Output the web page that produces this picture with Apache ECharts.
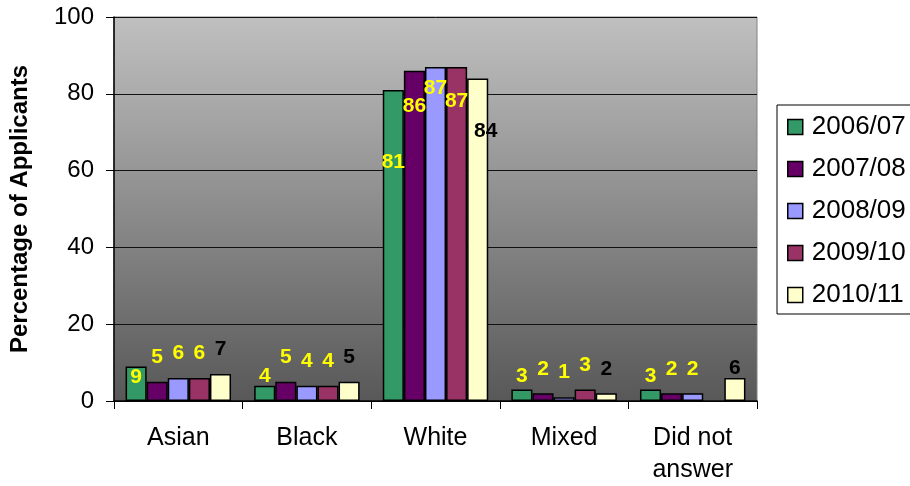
<!DOCTYPE html>
<html>
<head>
<meta charset="utf-8">
<title>Percentage of Applicants by Ethnicity</title>
<script src="https://cdn.jsdelivr.net/npm/echarts@6/dist/echarts.min.js"></script>
<style>
  html, body { margin: 0; padding: 0; background: #ffffff; }
  #chart { width: 910px; height: 486px; }
</style>
</head>
<body>
<div id="chart"></div>
<script>
// Ethnic groups on the x axis
var categories = ['Asian', 'Black', 'White', 'Mixed', 'Did not\nanswer'];

// Academic years (one series each)
var years = ['2006/07', '2007/08', '2008/09', '2009/10', '2010/11'];

// Percentage of applicants per group, per year
var y2006 = [9, 4, 81, 3, 3];
var y2007 = [5, 5, 86, 2, 2];
var y2008 = [6, 4, 87, 1, 2];
var y2009 = [6, 4, 87, 3, null];
var y2010 = [7, 5, 84, 2, 6];

// Y axis tick values
var yTicks = [0, 20, 40, 60, 80, 100];

var seriesValues = [y2006, y2007, y2008, y2009, y2010];
var barColors = ['#339966', '#660066', '#9999FF', '#993366', '#FFFFCC'];
var labelColors = ['#FFFF00', '#FFFF00', '#FFFF00', '#FFFF00', '#000000'];

// Extra label shifts (pixels, downward) for individual bars: [series][category]
var labelShiftY = [
  [35, 15, 97, 11, 11],
  [0, 0, 60, 0, 0],
  [0, 0, 46, 0, 0],
  [0, 0, 59, 0, 0],
  [0, 0, 77, 0, 15]
];
var labelShiftX = [
  [0, 0, 0, 0, 0],
  [0, 0, 0, 0, 0],
  [0, 0, 0, 0, 0],
  [0, 0, 0, 0, 0],
  [0, 0, 8, 0, 0]
];

var FONT = 'Arial, "Liberation Sans", sans-serif';

var series = years.map(function (name, s) {
  return {
    name: name,
    type: 'bar',
    barGap: '0%',
    barCategoryGap: '18%',
    itemStyle: { color: barColors[s], borderColor: '#000000', borderWidth: 1.5 },
    label: {
      show: true,
      position: 'top',
      distance: 14,
      color: labelColors[s],
      fontFamily: FONT,
      fontWeight: 'bold',
      fontSize: 21
    },
    data: seriesValues[s].map(function (v, c) {
      return {
        value: v,
        label: { offset: [labelShiftX[s][c], labelShiftY[s][c]] }
      };
    })
  };
});

var chart = echarts.init(document.getElementById('chart'), null, { renderer: 'canvas' });

chart.setOption({
  animation: false,
  backgroundColor: '#ffffff',
  textStyle: { fontFamily: FONT },
  grid: {
    left: 113,
    top: 17,
    right: 153,
    bottom: 85,
    show: true,
    borderColor: '#808080',
    borderWidth: 1,
    backgroundColor: new echarts.graphic.LinearGradient(0, 0, 0, 1, [
      { offset: 0, color: '#C0C0C0' },
      { offset: 1, color: '#585858' }
    ])
  },
  legend: {
    orient: 'vertical',
    left: 777,
    top: 105,
    padding: [9, 12, 6, 10],
    itemGap: 16,
    itemWidth: 15,
    itemHeight: 15,
    icon: 'rect',
    borderColor: '#000000',
    borderWidth: 1,
    backgroundColor: '#ffffff',
    textStyle: { fontFamily: FONT, fontSize: 26, color: '#000000', padding: [0, 0, 0, 4] },
    itemStyle: { borderColor: '#000000', borderWidth: 1.5 },
    data: years
  },
  xAxis: {
    type: 'category',
    data: categories,
    axisLine: { lineStyle: { color: '#000000', width: 1.5 } },
    axisTick: { show: true, length: 8, alignWithLabel: false, lineStyle: { color: '#000000' } },
    axisLabel: {
      margin: 21,
      fontFamily: FONT,
      fontSize: 25,
      lineHeight: 32,
      color: '#000000'
    }
  },
  yAxis: {
    type: 'value',
    min: yTicks[0],
    max: yTicks[yTicks.length - 1],
    interval: yTicks[1] - yTicks[0],
    name: 'Percentage of Applicants',
    nameLocation: 'middle',
    nameGap: 82,
    nameTextStyle: { fontFamily: FONT, fontSize: 24, fontWeight: 'bold', color: '#000000' },
    axisLine: { show: true, lineStyle: { color: '#000000', width: 1.5 } },
    axisTick: { show: true, length: 8, lineStyle: { color: '#000000' } },
    axisLabel: { margin: 20, fontFamily: FONT, fontSize: 24, color: '#000000' },
    splitLine: { show: true, lineStyle: { color: '#111111', width: 1 } }
  },
  series: series
});
</script>
</body>
</html>
